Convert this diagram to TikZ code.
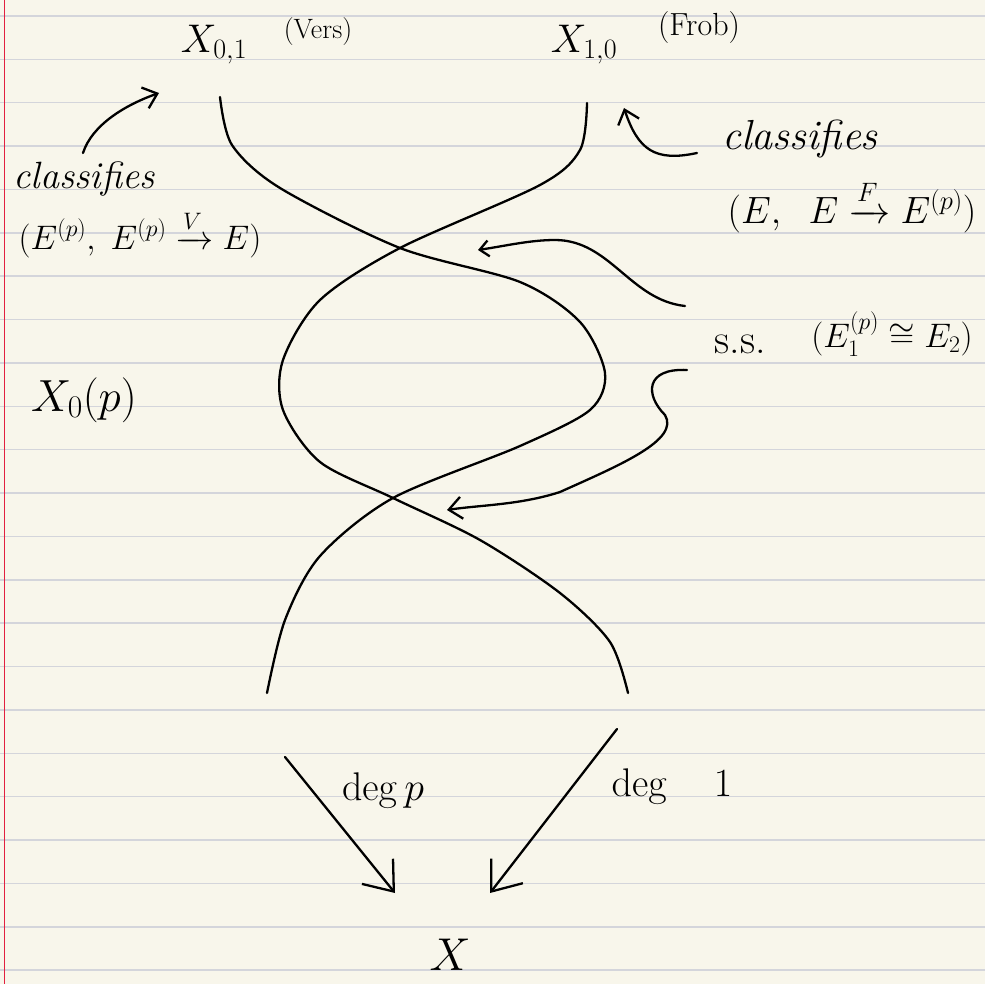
\RequirePackage{fix-cm}
\documentclass[tikz,border=0pt]{standalone}
\usepackage{amsmath,amssymb}
\usepackage{xcolor}
\usepackage{tikz}
\usetikzlibrary{arrows.meta}

\definecolor{paper}{RGB}{248,246,235}
\definecolor{ruling}{RGB}{212,213,219}
\definecolor{margin}{RGB}{226,32,64}

\begin{document}
\begin{tikzpicture}[x=1pt,y=-1pt,>=Latex,
  ink/.style={line width=2.3pt,line cap=round,line join=round},
  ruled/.style={ruling,line width=1.5pt},
  tinyhead/.style={ink,-{Straight Barb[length=9pt,width=16pt]}},
  smallhead/.style={ink,-{Straight Barb[length=13pt,width=22pt]}},
  bighead/.style={ink,-{Straight Barb[length=26pt,width=40pt]}},
  lbl/.style={inner sep=0pt}]
\path[use as bounding box] (0,0) rectangle (985,984);

% paper
\fill[paper] (0,0) rectangle (985,984);
\foreach \k in {0,...,22}
  \draw[ruled] (0,{16+43.37*\k}) -- (985,{16+43.37*\k});
\draw[margin,line width=1.8pt] (4.5,0) -- (4.5,984);

% the two moduli spaces on top
\node[lbl,font=\fontsize{40}{46}\selectfont] (X01) at (214,45) {$X_{0,1}$};
\node[lbl,font=\fontsize{28}{32}\selectfont] (vers) at (318,32) {(Vers)};
\node[lbl,font=\fontsize{40}{46}\selectfont] (X10) at (584,45) {$X_{1,0}$};
\node[lbl,font=\fontsize{32}{36}\selectfont] (frob) at (699,28) {(Frob)};

% what they classify
\node[lbl,font=\fontsize{38}{44}\selectfont\itshape] (clsV) at (84,179) {classifies};
\node[lbl,font=\fontsize{34}{40}\selectfont] (pairV) at (140,234)
  {$(E^{(p)},\; E^{(p)}\xrightarrow{V}E)$};
\node[lbl,font=\fontsize{42}{48}\selectfont\itshape] (clsF) at (800,139) {classifies};
\node[lbl,font=\fontsize{38}{44}\selectfont] (pairF) at (852,206)
  {$(E,\;\; E\xrightarrow{F}E^{(p)})$};

% supersingular points
\node[lbl,font=\fontsize{42}{48}\selectfont] (ss) at (740,344) {s.s.};
\node[lbl,font=\fontsize{34}{40}\selectfont] (iso) at (892,334) {$(E_1^{(p)}\cong E_2)$};

\node[lbl,font=\fontsize{45}{52}\selectfont] (Xzero) at (84,400) {$X_0(p)$};

% base and degrees
\node[lbl,font=\fontsize{46}{52}\selectfont] (Xbase) at (450,955) {$X$};
\node[lbl,font=\fontsize{40}{46}\selectfont] (degp) at (383,790) {$\deg p$};
\node[lbl,font=\fontsize{40}{46}\selectfont] (degone) at (672,786) {$\deg\quad 1$};

% ends of the strands and arrows
\coordinate (topA) at (220,97);
\coordinate (botA) at (267,693);
\coordinate (topB) at (587,103);
\coordinate (botB) at (628,693);
\coordinate (vtail) at (83,153);
\coordinate (vtip) at (159,93);
\coordinate (ftail) at (697,153);
\coordinate (ftip) at (624,108);
\coordinate (sstail1) at (685,306);
\coordinate (sstip1) at (478,250);
\coordinate (sstail2) at (687,370);
\coordinate (sstip2) at (447,510);
\coordinate (ptail) at (285,757);
\coordinate (ptip) at (395,893);
\coordinate (otail) at (617,729);
\coordinate (otip) at (490,893);

% strand from X_{0,1}
\draw[ink] plot[smooth] coordinates {(topA) (232,145) (280,188) (400,248)
  (520,282) (580,322) (605,373) (590,410) (520,446) (393,498) (320,556)
  (285,620) (botA)};

% strand from X_{1,0}
\draw[ink] plot[smooth] coordinates {(topB) (580,150) (540,185) (400,248)
  (320,300) (283,360) (283,410) (320,462) (393,498) (480,540) (560,593)
  (610,642) (botB)};

% classifies arrows
\draw[smallhead] (vtail) .. controls (92,125) and (125,105) .. (vtip);
\draw[smallhead] (ftail) .. controls (655,162) and (638,150) .. (ftip);

% s.s. arrows into the crossings
\draw[tinyhead] (sstail1) .. controls (630,300) and (610,240) .. (555,240)
  .. controls (530,240) and (505,246) .. (sstip1);
\draw[smallhead] (sstail2) .. controls (645,368) and (645,395) .. (665,415)
  .. controls (680,440) and (620,465) .. (560,492)
  .. controls (520,505) and (480,505) .. (sstip2);

% maps down to X
\draw[bighead] (ptail) -- (ptip);
\draw[bighead] (otail) -- (otip);
\end{tikzpicture}
\end{document}
